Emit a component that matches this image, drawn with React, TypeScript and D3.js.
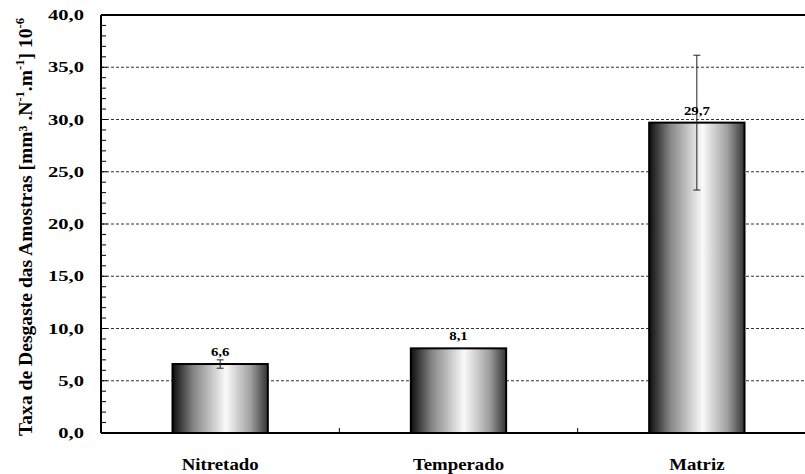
import * as React from 'react';
import * as d3 from 'd3';

// dados
const categories = ['Nitretado', 'Temperado', 'Matriz'];
const values = [6.6, 8.1, 29.7];
const errors = [0.4, 0, 6.45];
const yTicks = [0, 5, 10, 15, 20, 25, 30, 35, 40];

const W = 805;
const H = 474;
const margin = { left: 101, top: 15, bottom: 41 };
const plotRight = 816; // o gráfico original é cortado à direita

const fmt = (v: number) => v.toFixed(1).replace('.', ',');
const font = '"Liberation Serif", "Times New Roman", "DejaVu Serif", serif';
const SX = 1.14; // a imagem original está esticada na horizontal

export default function App() {
  const x = d3.scaleBand<string>().domain(categories).range([margin.left, plotRight]).padding(0);
  const y = d3.scaleLinear().domain([0, 40]).range([H - margin.bottom, margin.top]);
  const bw = x.bandwidth() * 0.4;
  const minor = d3.range(0, 41, 1).filter((v) => v % 5 !== 0);

  return (
    <svg width={W} height={H} style={{ position: 'absolute', left: 0, top: 0, background: '#fff', fontFamily: font }}>
      <defs>
        <linearGradient id="barGrad" x1="0" x2="1" y1="0" y2="0">
          <stop offset="0%" stopColor="#0d0d0d" />
          <stop offset="22%" stopColor="#858585" />
          <stop offset="56%" stopColor="#fafafa" />
          <stop offset="82%" stopColor="#a0a0a0" />
          <stop offset="100%" stopColor="#333" />
        </linearGradient>
      </defs>

      {/* grade */}
      {yTicks.filter((t) => t > 0 && t < 40).map((t) => (
        <line key={t} x1={margin.left} x2={W} y1={y(t)} y2={y(t)} stroke="#333" strokeWidth={1} strokeDasharray="3,2" />
      ))}

      {/* barras */}
      {categories.map((c, i) => {
        const cx = x(c)! + x.bandwidth() / 2;
        return (
          <g key={c}>
            <rect x={cx - bw / 2} y={y(values[i])} width={bw} height={y(0) - y(values[i])}
              fill="url(#barGrad)" stroke="#000" strokeWidth={2} />
            {errors[i] > 0 && (
              <g stroke="#222" strokeWidth={1}>
                <line x1={cx} x2={cx} y1={y(values[i] + errors[i])} y2={y(values[i] - errors[i])} />
                <line x1={cx - 3.5} x2={cx + 3.5} y1={y(values[i] + errors[i])} y2={y(values[i] + errors[i])} />
                <line x1={cx - 3.5} x2={cx + 3.5} y1={y(values[i] - errors[i])} y2={y(values[i] - errors[i])} />
              </g>
            )}
            <text transform={`translate(${cx},${y(values[i]) - 8}) scale(${SX},1)`} textAnchor="middle" fontSize={13} fontWeight="bold">{fmt(values[i])}</text>
            <text transform={`translate(${cx},${H - 4}) scale(${SX},1)`} textAnchor="middle" fontSize={16.5} fontWeight="bold">{c}</text>
          </g>
        );
      })}

      {/* eixos */}
      <line x1={margin.left} x2={W} y1={y(40)} y2={y(40)} stroke="#000" strokeWidth={2} />
      <line x1={margin.left} x2={W} y1={y(0)} y2={y(0)} stroke="#000" strokeWidth={2} />
      <line x1={margin.left} x2={margin.left} y1={y(40)} y2={y(0)} stroke="#000" strokeWidth={2} />
      {minor.map((t) => (
        <line key={t} x1={margin.left} x2={margin.left + 5} y1={y(t)} y2={y(t)} stroke="#000" strokeWidth={1} />
      ))}
      {yTicks.map((t) => (
        <g key={t}>
          <line x1={margin.left} x2={margin.left + 6} y1={y(t)} y2={y(t)} stroke="#000" strokeWidth={1} />
          <text transform={`translate(84,${y(t)}) scale(1.42,1)`} dy="0.35em" textAnchor="end" fontSize={14.5} fontWeight="bold">{fmt(t)}</text>
        </g>
      ))}
      {categories.slice(1).map((c) => (
        <line key={c} x1={x(c)!} x2={x(c)!} y1={y(0)} y2={y(0) - 5} stroke="#000" strokeWidth={1} />
      ))}

      <text transform={`translate(32,${(y(0) + y(40)) / 2 + 3}) rotate(-90)`} textAnchor="middle" fontSize={19.6} fontWeight="bold">
        Taxa de Desgaste das Amostras [mm³ .N
        <tspan fontSize={12.5} dy={-8}>-1</tspan>
        <tspan dy={8}>.m</tspan>
        <tspan fontSize={12.5} dy={-8}>-1</tspan>
        <tspan dy={8}>] 10</tspan>
        <tspan fontSize={12.5} dy={-8}>-6</tspan>
      </text>
    </svg>
  );
}
